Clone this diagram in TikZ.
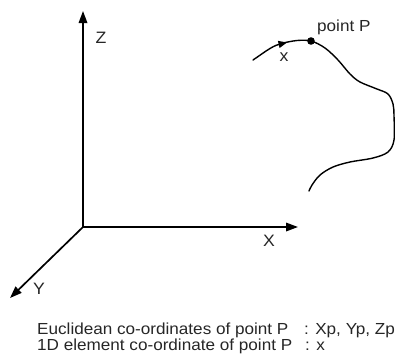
\documentclass[tikz,border=0pt]{standalone}
\usepackage{fontspec}
\setmainfont{Liberation Sans}[FakeStretch=1.07]
\usetikzlibrary{arrows.meta}
\tikzset{
  axis/.style={line width=1.7pt, -{Triangle[length=12pt,width=8.5pt]}},
  curve/.style={line width=1.4pt, line cap=round},
  lbl/.style={inner sep=0pt, font=\fontsize{16.5}{16}\selectfont, text=black!85},
  txt/.style={inner sep=0pt, anchor=base west, font=\fontsize{16}{16}\selectfont, text=black!85}
}
\begin{document}
\begin{tikzpicture}[x=1pt,y=-1pt]
\useasboundingbox (0,0) rectangle (395,360);
% axes
\coordinate (O) at (83,227);
\coordinate (Ztip) at (83,11);
\coordinate (Xtip) at (298,227);
\coordinate (Ytip) at (10,298);
\draw[axis] (O) -- (Ztip);
\draw[axis] (O) -- (Xtip);
\draw[axis] (O) -- (Ytip);
\node[lbl] (zl) at (101,38) {Z};
\node[lbl] (xl) at (269,241) {X};
\node[lbl] (yl) at (39,289) {Y};
% curve
\coordinate (c0) at (253,60);
\coordinate (cm) at (283,43);
\coordinate (P) at (311,41);
\draw[curve, -{Triangle[length=8.5pt,width=7pt]}] (c0) .. controls (262,54) and (272,46) .. (287,42.5);
\draw[curve] plot[smooth, tension=0.55] coordinates {(283,43) (297,40.5) (311,41) (325,48) (338,60) (350,74) (360,82) (377,89) (388,94) (393,104) (394,116) (394,140) (388,152) (373,158) (350,162) (333,167) (320,175) (312,185) (309,191)};
\fill (P) circle (3.8);
\node[txt] (pl) at (317,31) {point P};
\node[lbl] (xs) at (284,57) {x};
% legend
\node[txt] (l1) at (37,334) {Euclidean co-ordinates of point P};
\node[txt] (l1v) at (304,334) {: Xp, Yp, Zp};
\node[txt] (l2) at (37,350.5) {1D element co-ordinate of point P};
\node[txt] (l2v) at (305,350.5) {: x};
\end{tikzpicture}
\end{document}
